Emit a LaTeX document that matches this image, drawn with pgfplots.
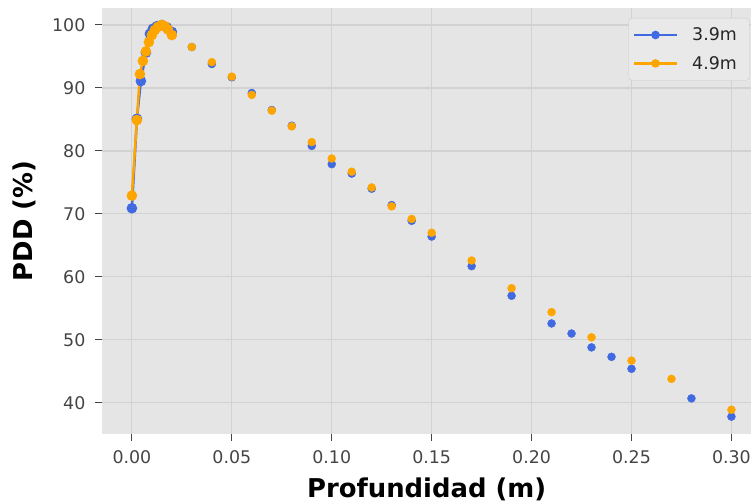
\documentclass[border=0pt]{standalone}
\usepackage{pgfplots}
\pgfplotsset{compat=1.18}
\usepackage{fontspec}
\setmainfont{DejaVu Sans}
\definecolor{bg}{RGB}{229,229,229}
\definecolor{gridc}{RGB}{210,210,210}
\definecolor{myblue}{RGB}{65,105,225}
\definecolor{myorange}{RGB}{255,165,0}
\definecolor{tickc}{RGB}{68,68,68}
\definecolor{legbg}{RGB}{233,233,233}
\definecolor{legdraw}{RGB}{205,205,205}

\pgfplotstableread{
x y
0 70.9
0.0025 85.1
0.0045 91.1
0.007 95.6
0.009 98.6
0.0105 99.4
0.0125 99.8
0.015 100
0.0175 99.6
0.02 98.9
}\blueline

\pgfplotstableread{
x y
0 72.9
0.0025 84.9
0.004 92.2
0.0055 94.3
0.007 95.8
0.0085 97.3
0.01 98.4
0.0115 99.2
0.013 99.7
0.015 100
0.0165 99.8
0.018 99.3
0.02 98.4
}\orangeline

\pgfplotstableread{
x y
0.03 96.5
0.04 93.8
0.05 91.7
0.06 89.2
0.07 86.5
0.08 84.0
0.09 80.8
0.10 77.9
0.11 76.4
0.12 74.0
0.13 71.4
0.14 68.9
0.15 66.4
0.17 61.7
0.19 57.0
0.21 52.6
0.22 51.0
0.23 48.8
0.24 47.3
0.25 45.4
0.28 40.7
0.30 37.8
}\bluepts

\pgfplotstableread{
x y
0.03 96.5
0.04 94.1
0.05 91.8
0.06 88.9
0.07 86.4
0.08 83.9
0.09 81.4
0.10 78.8
0.11 76.7
0.12 74.2
0.13 71.2
0.14 69.2
0.15 67.0
0.17 62.6
0.19 58.2
0.21 54.4
0.23 50.4
0.25 46.7
0.27 43.8
0.30 38.9
}\orangepts

\begin{document}
\begin{tikzpicture}
\begin{axis}[
  name=main,
  width=650bp, height=426bp, scale only axis,
  xmin=-0.015, xmax=0.31, ymin=35.1, ymax=102.7,
  axis background/.style={fill=bg},
  axis line style={draw=none},
  grid=major, grid style={gridc, line width=1.2bp},
  xtick={0,0.05,0.1,0.15,0.2,0.25,0.3},
  ytick={40,50,60,70,80,90,100},
  tick align=outside, major tick length=7bp,
  tick style={tickc, line width=1bp},
  xtick pos=lower, ytick pos=left,
  /pgf/number format/assume math mode=true,
  tick label style={font=\fontsize{17.5}{20}\selectfont, text=tickc},
  xticklabel style={/pgf/number format/.cd, fixed, fixed zerofill, precision=2, /tikz/.cd, inner xsep=1bp, yshift=-6bp},
  yticklabel style={xshift=-6bp},
  xlabel={Profundidad (m)},
  ylabel={PDD (\%)},
  label style={font=\fontsize{26}{30}\selectfont\bfseries, inner sep=0pt},
  xlabel style={at={(axis description cs:0.5,-0.151)}, anchor=base},
  ylabel style={at={(axis description cs:-0.137,0.5)}, anchor=north},
  legend style={at={(axis description cs:0.9969,0.9765)}, anchor=north east,
    fill=legbg, draw=legdraw, rounded corners=3bp,
    font=\fontsize{17.5}{20}\selectfont, text=black!85,
    inner xsep=4bp, inner ysep=6.6bp, row sep=8bp,
    nodes={inner xsep=0bp, inner ysep=3bp},
    /tikz/every odd column/.append style={column sep=14bp}},
  legend cell align=left,
  legend image code/.code={\draw[#1, mark repeat=2, mark phase=2, mark size=3bp] plot coordinates {(0bp,0bp) (21.5bp,0bp) (43bp,0bp)};},
]
\addplot[myblue, line width=2.5bp, mark=*, mark size=4bp] table[x=x,y=y] {\blueline};
\addlegendentry{\makebox[53bp][l]{3.9m}}
\addplot[myorange, line width=2.5bp, mark=*, mark size=4bp] table[x=x,y=y] {\orangeline};
\addlegendentry{\makebox[53bp][l]{4.9m}}
\addplot[myblue, only marks, mark=*, mark size=4bp, forget plot] table[x=x,y=y] {\bluepts};
\addplot[myorange, only marks, mark=*, mark size=4bp, forget plot] table[x=x,y=y] {\orangepts};
\end{axis}
\path ([xshift=-102bp,yshift=8bp]main.north west);
\path ([xshift=-102bp,yshift=-70bp]main.south west);
\end{tikzpicture}
\end{document}
